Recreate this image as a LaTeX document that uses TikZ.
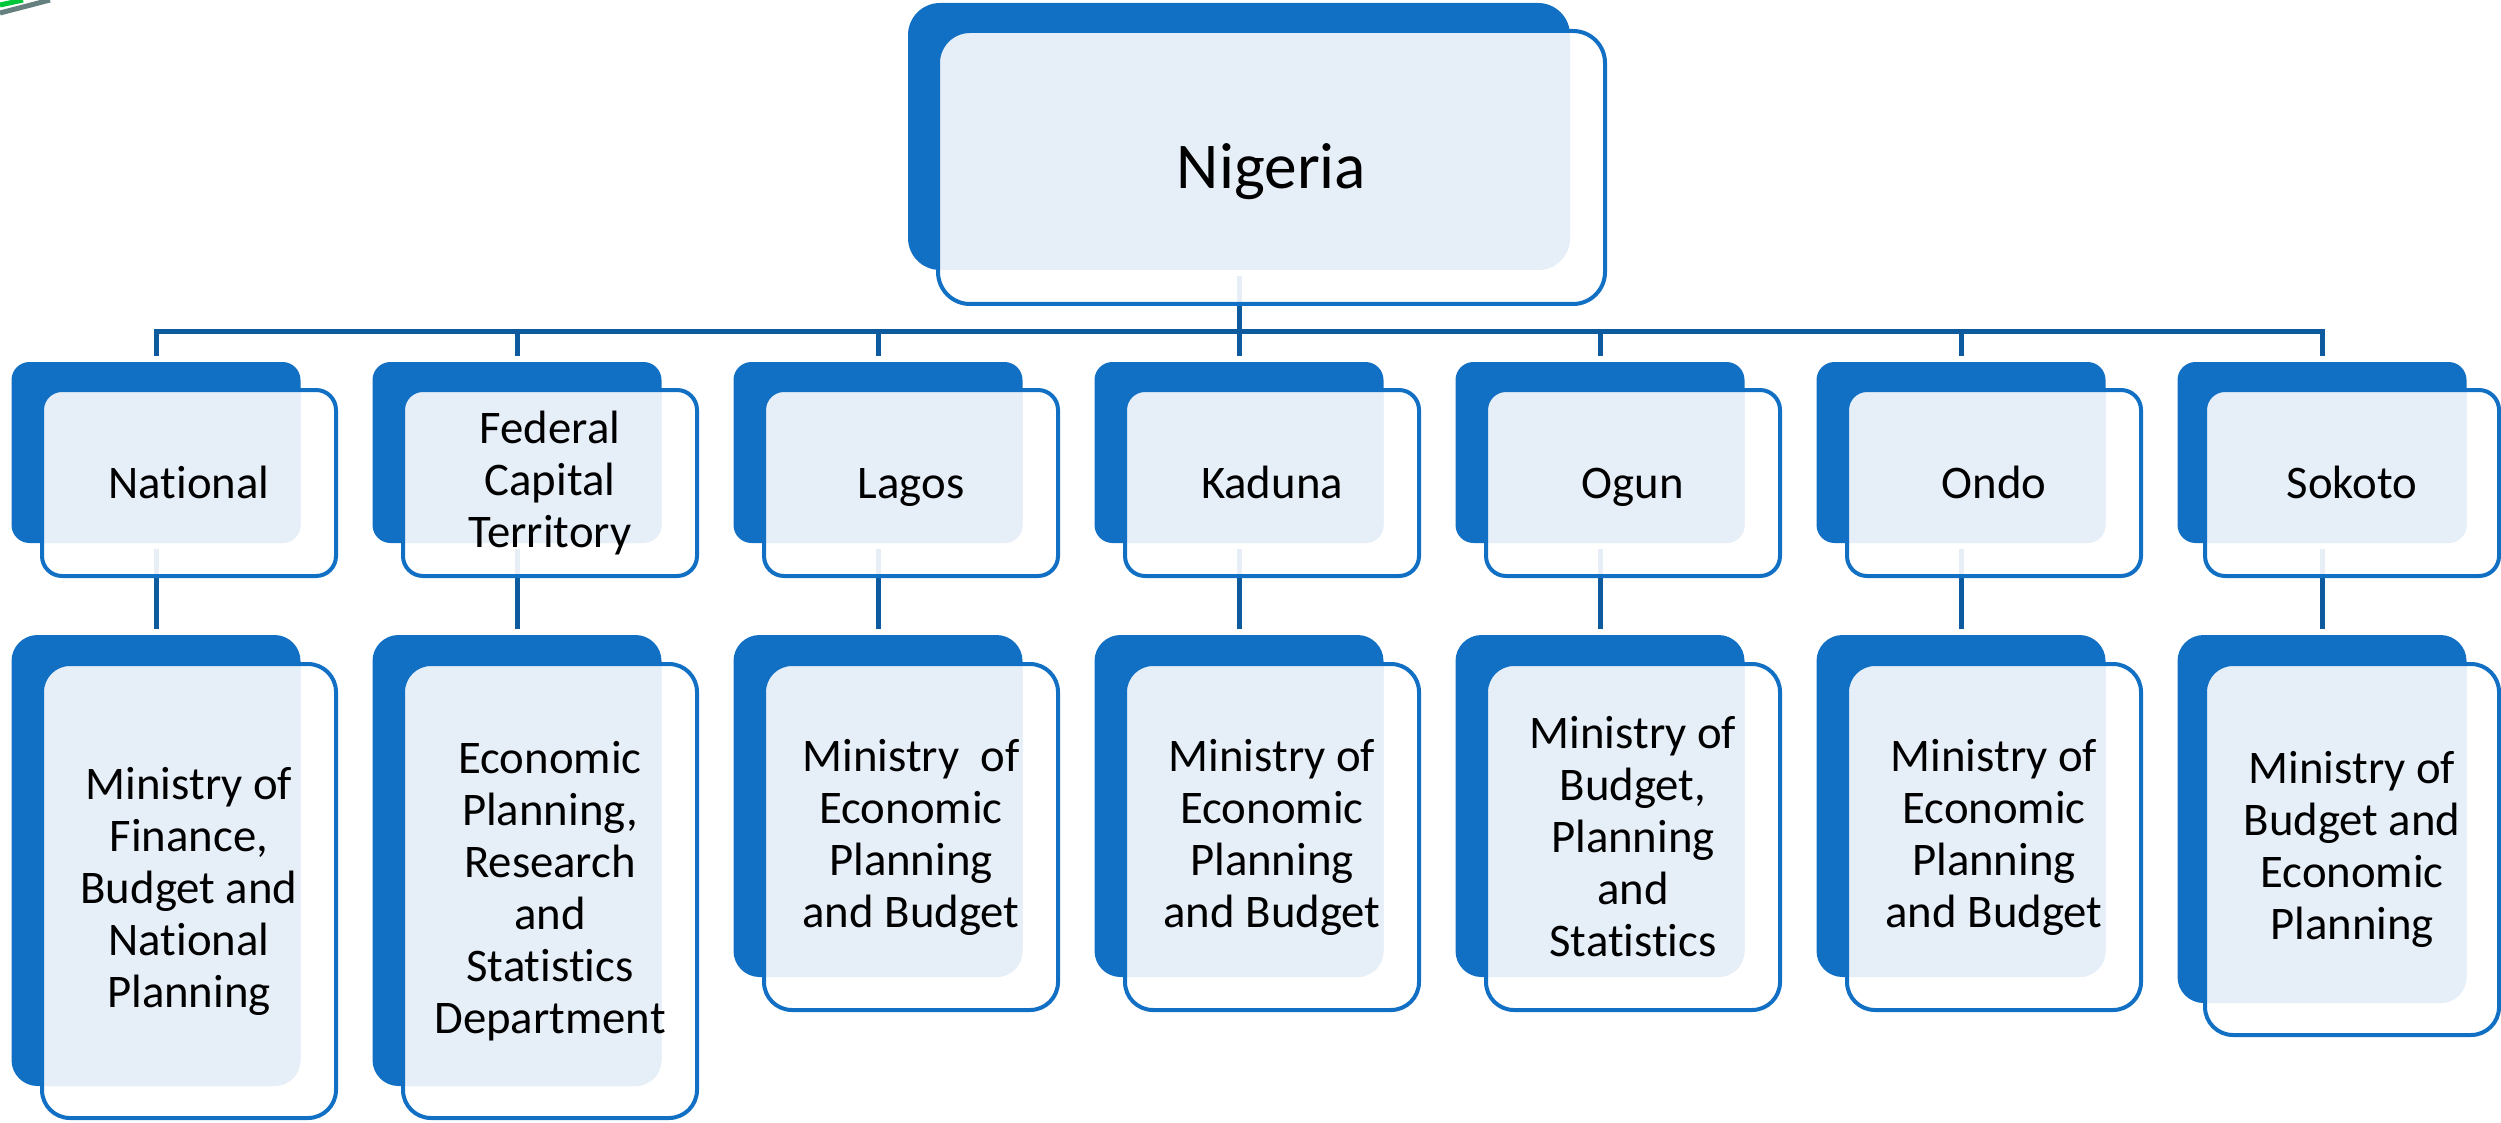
\documentclass[tikz,border=0pt]{standalone}
\usepackage{fontspec}
\setmainfont{Carlito}[Ligatures=NoCommon]
\usetikzlibrary{backgrounds}

\definecolor{boxblue}{HTML}{1170C4}
\definecolor{linkblue}{HTML}{0E5A9E}
\definecolor{tintblue}{HTML}{E6EEF8}

\tikzset{
	backbox/.style={rectangle, fill=boxblue, inner sep=0pt, outer sep=0pt},
	frontbox/.style={rectangle, draw=boxblue, line width=0.4mm, fill=white, fill opacity=0.9, text opacity=1,
		inner sep=0pt, outer sep=0pt, align=center, font=\fontsize{13.3}{14.8}\selectfont},
	tinted/.style 2 args={path picture={\fill[tintblue, fill opacity=1, rounded corners=#2] (#1.south west) rectangle (#1.north east);}},
	oneline/.style={text height=#1, text depth=0pt},
	link/.style={draw=linkblue, line width=0.5mm, shorten <=0.6mm, shorten >=0.6mm},
	unitback/.style={backbox, minimum width=28.9mm, minimum height=18.1mm, rounded corners=1.8mm},
	unitfront/.style={frontbox, minimum width=29.4mm, minimum height=18.6mm, rounded corners=2mm},
	minback/.style={backbox, minimum width=28.9mm, rounded corners=2.6mm},
	minfront/.style={frontbox, minimum width=29.4mm, rounded corners=2.8mm}
}

\begin{document}
\begin{tikzpicture}[x=0.1mm, y=-0.1mm]
		\useasboundingbox (0,0) rectangle (2501,1122);

		% уголок слайда
		\draw [line width=0.5mm, green!55!teal] (0,5) -- (23,0);
		\draw [line width=0.5mm, gray!80!teal] (0,13) -- (50,0);

		% корень
		\node [backbox, minimum width=66.2mm, minimum height=26.7mm, rounded corners=3.2mm] (nig-b) at (1239,136.5) {};
		\node [frontbox, minimum width=66.7mm, minimum height=27.3mm, rounded corners=3.2mm, tinted={nig-b}{3.2mm},
			font=\fontsize{18.6}{22}\selectfont, oneline=12pt] (nig) at (1271.5,167.5) {Nigeria};

		% уровень 2
		\node [unitback] (nat-b) at (156,452.5) {};
		\node [unitfront, tinted={nat-b}{1.8mm}, oneline=8.6pt] (nat) at (189,483) {National};

		\node [unitback] (fct-b) at (517,452.5) {};
		\node [unitfront, tinted={fct-b}{1.8mm}] (fct) at (550,483) {Federal\\Capital\\Territory};

		\node [unitback] (lag-b) at (878,452.5) {};
		\node [unitfront, tinted={lag-b}{1.8mm}, oneline=8.6pt] (lag) at (911,483) {Lagos};

		\node [unitback] (kad-b) at (1239,452.5) {};
		\node [unitfront, tinted={kad-b}{1.8mm}, oneline=8.6pt] (kad) at (1272,483) {Kaduna};

		\node [unitback] (ogu-b) at (1600,452.5) {};
		\node [unitfront, tinted={ogu-b}{1.8mm}, oneline=8.6pt] (ogu) at (1633,483) {Ogun};

		\node [unitback] (ond-b) at (1961,452.5) {};
		\node [unitfront, tinted={ond-b}{1.8mm}, oneline=8.6pt] (ond) at (1994,483) {Ondo};

		\node [unitback] (sok-b) at (2322,452.5) {};
		\node [unitfront, tinted={sok-b}{1.8mm}, oneline=8.6pt] (sok) at (2352,483) {Sokoto};

		% уровень 3
		\node [minback, minimum height=45.1mm] (natmin-b) at (156,860.5) {};
		\node [minfront, minimum height=45.4mm, tinted={natmin-b}{2.6mm}] (natmin) at (189,891)
			{Ministry of\\Finance,\\Budget and\\National\\Planning};

		\node [minback, minimum height=45.1mm] (fctmin-b) at (517,860.5) {};
		\node [minfront, minimum height=45.4mm, tinted={fctmin-b}{2.6mm}] (fctmin) at (550,891)
			{Economic\\Planning,\\Research\\and\\Statistics\\Department};

		\node [minback, minimum height=34.2mm] (lagmin-b) at (878,806) {};
		\node [minfront, minimum height=34.6mm, tinted={lagmin-b}{2.6mm}] (lagmin) at (911,837)
			{Ministry\ \ of\\Economic\\Planning\\and Budget};

		\node [minback, minimum height=34.2mm] (kadmin-b) at (1239,806) {};
		\node [minfront, minimum height=34.6mm, tinted={kadmin-b}{2.6mm}] (kadmin) at (1272,837)
			{Ministry of\\Economic\\Planning\\and Budget};

		\node [minback, minimum height=34.2mm] (ogumin-b) at (1600,806) {};
		\node [minfront, minimum height=34.6mm, tinted={ogumin-b}{2.6mm}] (ogumin) at (1633,837)
			{Ministry of\\Budget,\\Planning\\and\\Statistics};

		\node [minback, minimum height=34.2mm] (ondmin-b) at (1961,806) {};
		\node [minfront, minimum height=34.6mm, tinted={ondmin-b}{2.6mm}] (ondmin) at (1994,837)
			{Ministry of\\Economic\\Planning\\and Budget};

		\node [minback, minimum height=36.8mm] (sokmin-b) at (2322,819) {};
		\node [minfront, minimum height=37.1mm, tinted={sokmin-b}{2.6mm}] (sokmin) at (2352,849.5)
			{Ministry of\\Budget and\\Economic\\Planning};

		% связи
		\begin{scope}[on background layer]
			\fill [white] (0,0) rectangle (2501,1122);
			\coordinate (bus) at (0,331);
			\draw [link] (nig-b) -- (nig-b |- bus) -| (nat-b);
			\draw [link] (nig-b) -- (nig-b |- bus) -| (fct-b);
			\draw [link] (nig-b) -- (nig-b |- bus) -| (lag-b);
			\draw [link] (nig-b) -- (nig-b |- bus) -| (kad-b);
			\draw [link] (nig-b) -- (nig-b |- bus) -| (ogu-b);
			\draw [link] (nig-b) -- (nig-b |- bus) -| (ond-b);
			\draw [link] (nig-b) -- (nig-b |- bus) -| (sok-b);

			\draw [link] (nat-b) -- (natmin-b);
			\draw [link] (fct-b) -- (fctmin-b);
			\draw [link] (lag-b) -- (lagmin-b);
			\draw [link] (kad-b) -- (kadmin-b);
			\draw [link] (ogu-b) -- (ogumin-b);
			\draw [link] (ond-b) -- (ondmin-b);
			\draw [link] (sok-b) -- (sokmin-b);
		\end{scope}
	\end{tikzpicture}
\end{document}
